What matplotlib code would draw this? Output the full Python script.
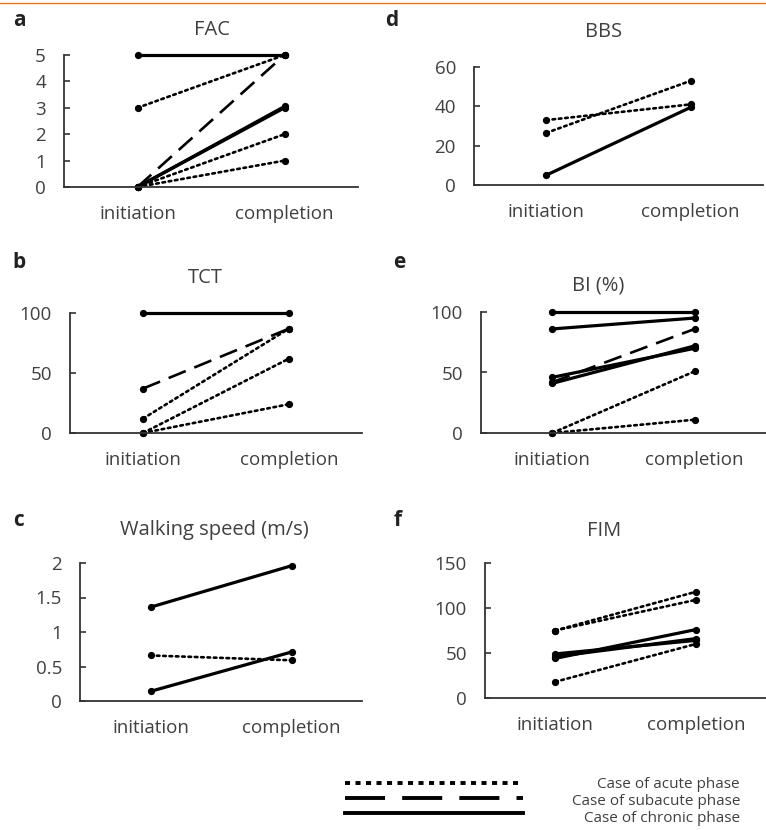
import numpy as np
import matplotlib
matplotlib.use('Agg')
import matplotlib.pyplot as plt
from matplotlib.lines import Line2D

plt.rcParams['font.family'] = ['Open Sans', 'DejaVu Sans']

stages = ['initiation', 'completion']

# each row: [initiation, completion]
fac_acute = [[3, 5], [0, 2], [0, 1]]
fac_subacute = [[0, 5]]
fac_chronic = [[5, 5], [0, 3], [0, 3.05]]

tct_acute = [[12, 87], [0, 62], [0, 24]]
tct_subacute = [[37, 87]]
tct_chronic = [[100, 100]]

walk_acute = [[0.66, 0.59]]
walk_subacute = []
walk_chronic = [[1.36, 1.96], [0.14, 0.71]]

bbs_acute = [[33, 41], [26.5, 53]]
bbs_subacute = []
bbs_chronic = [[5, 39.5]]

bi_acute = [[0, 51], [0, 11]]
bi_subacute = [[42, 86]]
bi_chronic = [[100, 100], [86, 95], [46, 70], [41, 72]]

fim_acute = [[75, 118], [75, 109], [18, 60]]
fim_subacute = []
fim_chronic = [[49, 64], [44, 76], [46, 66]]

legend_labels = ['Case of acute phase', 'Case of subacute phase', 'Case of chronic phase']

W, H = 766, 830
txt_col = '#404040'


def px_axes(fig, x0, x1, ytop, ybot):
    return fig.add_axes([x0 / W, 1 - ybot / H, (x1 - x0) / W, (ybot - ytop) / H])


def styles():
    return [dict(ls=(0, (1, 1.4)), lw=1.9, dash_capstyle='round'),
            dict(ls=(0, (7, 3.5)), lw=1.9),
            dict(ls='-', lw=2.3)]


def panel(ax, acute, subacute, chronic, yticks, yticklabels=None):
    xs = [0.5, 1.5]
    for group, st in zip([acute, subacute, chronic], styles()):
        for row in group:
            ax.plot(xs, row, color='black', marker='o', ms=4.2, clip_on=False,
                    solid_capstyle='round', **st)
    ax.set_xlim(0, 2)
    ax.set_ylim(yticks[0], yticks[-1])
    ax.set_yticks(yticks)
    if yticklabels is not None:
        ax.set_yticklabels(yticklabels)
    ax.set_xticks(xs)
    ax.set_xticklabels(stages)
    for s in ['top', 'right']:
        ax.spines[s].set_visible(False)
    for s in ['left', 'bottom']:
        ax.spines[s].set_color('#333333')
        ax.spines[s].set_linewidth(1.3)
    ax.tick_params(axis='y', direction='in', length=4, width=1.2, color='#333333',
                   labelsize=13.5, labelcolor=txt_col, pad=13)
    ax.tick_params(axis='x', length=0, labelsize=13.5, labelcolor=txt_col, pad=13)
    ax.patch.set_visible(False)


fig = plt.figure(figsize=(W / 100, H / 100), dpi=100)

fig.add_artist(Line2D([0, 1], [1 - 3 / H, 1 - 3 / H], color='#E8761E', lw=1.0))

ax_a = px_axes(fig, 64, 358, 55, 187)
panel(ax_a, fac_acute, fac_subacute, fac_chronic, [0, 1, 2, 3, 4, 5])
ax_d = px_axes(fig, 474, 763, 67, 185)
panel(ax_d, bbs_acute, bbs_subacute, bbs_chronic, [0, 20, 40, 60])
ax_b = px_axes(fig, 70, 362, 313, 433)
panel(ax_b, tct_acute, tct_subacute, tct_chronic, [0, 50, 100])
ax_e = px_axes(fig, 481, 766, 312, 433)
panel(ax_e, bi_acute, bi_subacute, bi_chronic, [0, 50, 100])
ax_c = px_axes(fig, 80, 362, 563, 701)
panel(ax_c, walk_acute, walk_subacute, walk_chronic, [0, 0.5, 1, 1.5, 2],
      ['0', '0.5', '1', '1.5', '2'])
ax_f = px_axes(fig, 485, 766, 563, 698)
panel(ax_f, fim_acute, fim_subacute, fim_chronic, [0, 50, 100, 150])

titles = [('FAC', 212, 30), ('BBS', 604, 32), ('TCT', 205, 278),
          ('BI (%)', 598, 285), ('Walking speed (m/s)', 214, 530), ('FIM', 604, 531)]
for t, x, y in titles:
    fig.text(x / W, 1 - y / H, t, ha='center', va='center', fontsize=14.5, color=txt_col)

letters = [('a', 19, 21), ('d', 392, 20), ('b', 19, 263), ('e', 399, 263),
           ('c', 18, 521), ('f', 398, 521)]
for t, x, y in letters:
    fig.text(x / W, 1 - y / H, t, ha='center', va='center', fontsize=15,
             fontweight='bold', color='#222222')

# legend
lax = fig.add_axes([0, 0, 1, 1 - 760 / H])
lax.set_xlim(0, W)
lax.set_ylim(H, 760)
lax.axis('off')
leg_y = [783, 798, 813]
text_y = [784, 801, 818]
leg_styles = [dict(ls=(0, (1.3, 1.4)), lw=2.8),
              dict(ls=(0, (10.3, 4.4)), lw=2.8),
              dict(ls='-', lw=2.8)]
for y, ty, st, lab in zip(leg_y, text_y, leg_styles, legend_labels):
    lax.plot([345, 523], [y, y], color='black', **st)
    lax.text(740, ty, lab, ha='right', va='center', fontsize=11, color=txt_col)

fig.savefig('out.png', dpi=100)
